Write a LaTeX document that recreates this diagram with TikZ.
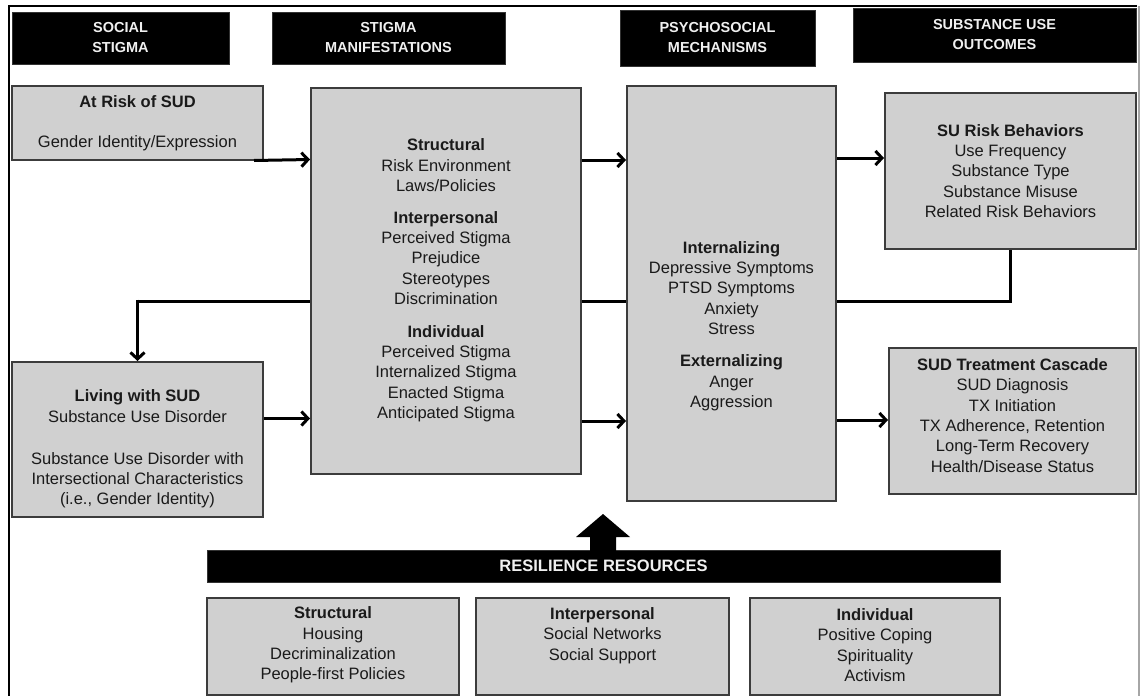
\documentclass[tikz,border=0pt]{standalone}
\usepackage{fontspec}
\setmainfont{Liberation Sans}
\usetikzlibrary{arrows.meta,backgrounds}
\definecolor{boxfill}{HTML}{D0D0D0}
\definecolor{boxline}{HTML}{3C3C3C}
\definecolor{txtcol}{HTML}{1A1A1A}
\begin{document}
\begin{tikzpicture}[x=1pt,y=-1pt,
  hdr/.style={fill=black,draw=black!80,line width=1pt,text=white!94!black,align=center,
    inner sep=0pt,font=\bfseries\fontsize{14.5}{20}\selectfont},
  gbox/.style={fill=boxfill,draw=boxline,line width=2pt,inner sep=0pt},
  btext/.style={align=center,text=txtcol,inner sep=0pt,font=\fontsize{16.5}{20.3}\selectfont},
  conn/.style={line width=3pt,-{Straight Barb[length=6.5pt,width=14pt]}},
  fline/.style={line width=3pt}]
\useasboundingbox (0,0) rectangle (1141,696);
% outer frame
\draw[line width=1.6pt,black] (9,696) -- (9,6) -- (1137,6);
\draw[line width=1.6pt,black!35] (1139,6) -- (1139,696);

% headers
\node[hdr,minimum width=217,minimum height=52] (h1) at (120.5,38) {SOCIAL\\STIGMA};
\node[hdr,minimum width=233,minimum height=52] (h2) at (388.5,38) {STIGMA\\MANIFESTATIONS};
\node[hdr,minimum width=195,minimum height=56] (h3) at (717.5,38) {PSYCHOSOCIAL\\MECHANISMS};
\node[hdr,minimum width=283,minimum height=54] (h4) at (994.5,35) {SUBSTANCE USE\\OUTCOMES};

% grey boxes
\node[gbox,minimum width=251,minimum height=74] (atrisk) at (137.5,123) {};
\node[btext] (atrisktxt) at (137.5,123) {\textbf{At Risk of SUD}\\[20pt]Gender Identity/Expression};

\node[gbox,minimum width=270,minimum height=386] (stigma) at (446,281) {};
\node[btext] (stigmatxt) at (446,280.5) {\textbf{Structural}\\Risk Environment\\Laws/Policies\\[11.5pt]
  \textbf{Interpersonal}\\Perceived Stigma\\Prejudice\\Stereotypes\\Discrimination\\[12.5pt]
  \textbf{Individual}\\Perceived Stigma\\Internalized Stigma\\Enacted Stigma\\Anticipated Stigma};

\node[gbox,minimum width=209,minimum height=415] (psy) at (731.5,293.5) {};
\node[btext] (psytxt) at (731.5,326) {\textbf{Internalizing}\\Depressive Symptoms\\PTSD Symptoms\\Anxiety\\Stress\\[12pt]
  \textbf{Externalizing}\\Anger\\Aggression};

\node[gbox,minimum width=251,minimum height=156] (surisk) at (1010.5,171) {};
\node[btext] (surisktxt) at (1010.5,171) {\textbf{SU Risk Behaviors}\\Use Frequency\\Substance Type\\Substance Misuse\\Related Risk Behaviors};

\node[gbox,minimum width=247,minimum height=146] (sudtx) at (1012.5,421) {};
\node[btext] (sudtxtxt) at (1012.5,415.5) {\textbf{SUD Treatment Cascade}\\SUD Diagnosis\\TX Initiation\\TX Adherence, Retention\\Long-Term Recovery\\Health/Disease Status};

\node[gbox,minimum width=251,minimum height=155] (living) at (137.5,439.5) {};
\node[btext] (livingtxt) at (137.5,449) {\textbf{Living with SUD}\\Substance Use Disorder\\[21.5pt]
  Substance Use Disorder with\\Intersectional Characteristics\\(i.e., Gender Identity)};

% resilience
\node[hdr,minimum width=793,minimum height=32,font=\bfseries\fontsize{16.5}{18}\selectfont] (bar) at (603.5,566) {RESILIENCE RESOURCES};
\fill[black] (590,551) -- (590,537) -- (576,537) -- (603,514) -- (630,537) -- (616,537) -- (616,551) -- cycle;

\node[gbox,minimum width=252,minimum height=97] (b1) at (333,646.5) {};
\node[btext] (b1txt) at (333,645) {\textbf{Structural}\\Housing\\Decriminalization\\People-first Policies};
\node[gbox,minimum width=253,minimum height=97] (b2) at (602.5,646.5) {};
\node[btext,anchor=north] (b2txt) at (602.5,607.5) {\textbf{Interpersonal}\\Social Networks\\Social Support};
\node[gbox,minimum width=250,minimum height=97] (b3) at (875,646.5) {};
\node[btext] (b3txt) at (875,645) {\textbf{Individual}\\Positive Coping\\Spirituality\\Activism};

% connectors
\draw[conn] (atrisk.south east) ++(-10,-0.5) -- (stigma.west |- 0,159.5);
\draw[conn] (living.east |- 0,418.5) -- (stigma.west |- 0,418.5);
\draw[conn] (stigma.east |- 0,160) -- (psy.west |- 0,160);
\draw[conn] (stigma.east |- 0,421) -- (psy.west |- 0,421);
\draw[conn] (psy.east |- 0,158) -- (surisk.west |- 0,158);
\draw[conn] (psy.east |- 0,420) -- (sudtx.west |- 0,420);

% feedback loop
\coordinate (fbR) at (surisk.south |- 0,301);
\coordinate (fbL) at (living.north |- 0,301);
\begin{scope}[on background layer]
\fill[white] (0,0) rectangle (1141,696);
\draw[fline] (surisk.south) -- (fbR) -- (fbL);
\end{scope}
\draw[conn] ([yshift=1.5pt]fbL) -- (living.north);
\end{tikzpicture}
\end{document}
